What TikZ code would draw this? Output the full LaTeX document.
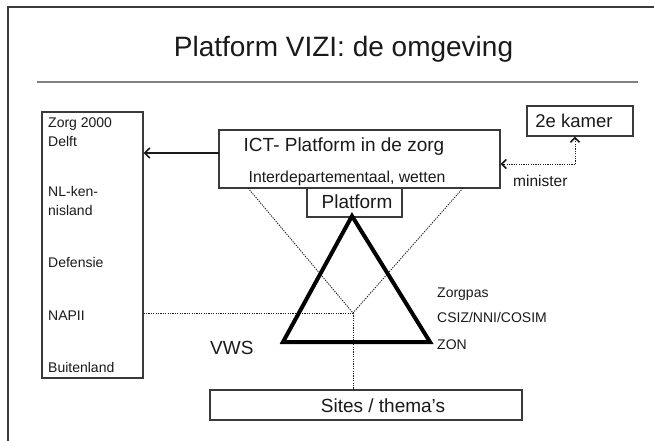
\documentclass[tikz,border=0pt]{standalone}
\usepackage{fontspec}
\setmainfont{Liberation Sans}
\usetikzlibrary{arrows.meta}
\definecolor{ink}{HTML}{1A1A1A}
\definecolor{frame}{HTML}{3A3A3A}
\tikzset{
  box/.style={draw=frame, line width=1.3pt, fill=white, inner sep=0pt},
  txt/.style={inner sep=0pt, text=ink},
  dotline/.style={draw=ink, line width=0.9pt, dash pattern=on 1.2pt off 1.2pt},
  barb/.style={-{Straight Barb[length=5pt,width=10pt,line width=1.6pt]}},
  sbarb/.style={-{Straight Barb[length=4.5pt,width=9pt,line width=1.6pt]}},
  fs/.style={font=\fontsize{#1}{#1}\selectfont}
}
\begin{document}
\begin{tikzpicture}[x=1pt,y=-1pt]
\useasboundingbox (0,0) rectangle (654,441);
% outer frame
\coordinate (f1) at (8,441);
\coordinate (f2) at (8,7);
\coordinate (f3) at (654,7);
\draw[frame, line width=1.5pt] (f1) -- (f2) -- (f3);
% title
\node[txt, fs=28, anchor=base] (title) at (343.5,57) {Platform VIZI: de omgeving};
\coordinate (l1) at (37,82);
\coordinate (l2) at (638,82);
\draw[gray, line width=1.5pt] (l1) -- (l2);

% boxes
\node[box, minimum width=101pt, minimum height=266pt] (left) at (92.5,245) {};
\node[box, minimum width=281pt, minimum height=58pt] (ict) at (359.5,159) {};
\node[box, minimum width=95pt, minimum height=29pt] (plat) at (354.5,202.5) {};
\node[box, minimum width=106pt, minimum height=30pt] (kamer) at (580,121) {};
\node[box, minimum width=312pt, minimum height=30pt] (sites) at (366,405) {};

% left box texts
\node[txt, fs=14, anchor=base west] (t1) at (48,128) {Zorg 2000};
\node[txt, fs=14, anchor=base west] (t2) at (48,147) {Delft};
\node[txt, fs=14, anchor=base west] (t3) at (48,197) {NL-ken-};
\node[txt, fs=14, anchor=base west] (t4) at (48,215) {nisland};
\node[txt, fs=14, anchor=base west] (t5) at (48,268) {Defensie};
\node[txt, fs=14, anchor=base west] (t6) at (48,320) {NAPII};
\node[txt, fs=14, anchor=base west] (t7) at (48,372) {Buitenland};

% box texts
\node[txt, fs=19, anchor=base] (ictt) at (344,152) {ICT- Platform in de zorg};
\node[txt, fs=15.8, anchor=base] (ictsub) at (347,183) {Interdepartementaal, wetten};
\node[txt, fs=19, anchor=base] (platt) at (357,209) {Platform};
\node[txt, fs=18.5, anchor=base] (kamert) at (574,128) {2e kamer};
\node[txt, fs=19, anchor=base] (sitest) at (383,412) {Sites / thema's};

% side labels
\node[txt, fs=15.5, anchor=base west] (min) at (513,187) {minister};
\node[txt, fs=14, anchor=base west] (zp) at (437,298) {Zorgpas};
\node[txt, fs=14, anchor=base west] (cs) at (437,322) {CSIZ/NNI/COSIM};
\node[txt, fs=14, anchor=base west] (zon) at (437,349) {ZON};
\node[txt, fs=19, anchor=base west] (vws) at (210,354) {VWS};

% dotted lines
\coordinate (c) at (353,313);
\coordinate (ia) at (248,188);
\coordinate (ib) at (463,188);
\draw[dotline] (ia) -- (c);
\draw[dotline] (ib) -- (c);
\draw[dotline] (left.east |- c) -- (c);
\draw[dotline] (c) -- (sites.north -| c);

% triangle
\coordinate (ta) at (352,216);
\coordinate (tb) at (283,342);
\coordinate (tc) at (430,342);
\draw[black, line width=4pt, line join=miter] (ta) -- (tb) -- (tc) -- cycle;

% arrow ICT -> left box
\coordinate (a1) at (219,153);
\draw[ink, line width=1.8pt, barb] (a1) -- (left.east |- a1);

% minister dotted arrows
\coordinate (k) at (575,164);
\draw[dotline, sbarb] (k) -- (ict.east |- k);
\draw[dotline, sbarb] (k) -- (kamer.south -| k);
\end{tikzpicture}
\end{document}
